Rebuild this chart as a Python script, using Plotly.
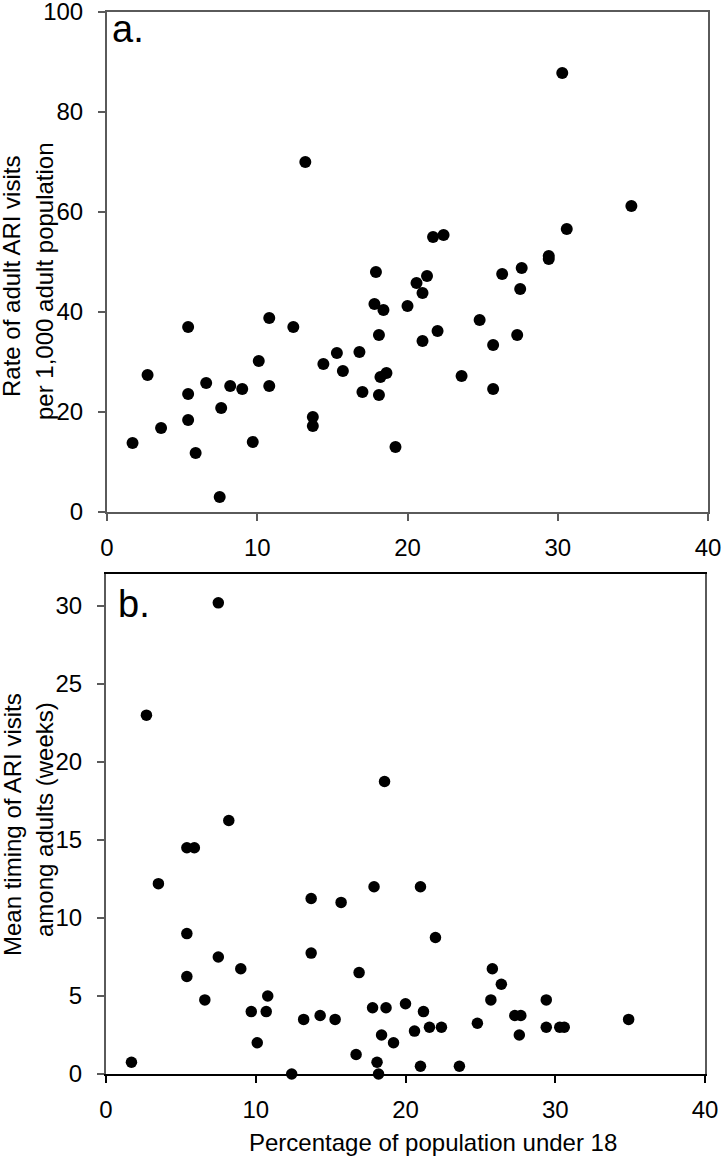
import plotly.graph_objects as go

# ---- Data ----
pct_under18_a = [1.7, 2.7, 3.6, 5.4, 5.4, 5.4, 5.9, 6.6, 7.6, 7.5, 8.2, 9.0, 9.7, 10.1,
                 10.8, 10.8, 12.4, 13.2, 13.7, 13.7, 14.4, 15.3, 15.7, 16.8, 17.0, 17.9,
                 17.8, 18.4, 18.1, 18.6, 18.2, 18.1, 19.2, 20.0, 20.6, 21.3, 21.0, 21.0,
                 22.0, 21.7, 22.4, 23.6, 24.8, 25.7, 25.7, 26.3, 27.3, 27.5, 27.6, 29.4,
                 29.4, 30.3, 30.6, 34.9]
ari_rate = [13.8, 27.4, 16.8, 37.0, 23.6, 18.4, 11.8, 25.8, 20.8, 3.0, 25.2, 24.6, 14.0, 30.2,
            38.8, 25.2, 37.0, 70.0, 19.0, 17.2, 29.6, 31.8, 28.2, 32.0, 24.0, 48.0,
            41.6, 40.4, 35.4, 27.8, 27.0, 23.4, 13.0, 41.2, 45.8, 47.2, 43.8, 34.2,
            36.2, 55.0, 55.4, 27.2, 38.4, 33.4, 24.6, 47.6, 35.4, 44.6, 48.8, 51.2,
            50.6, 87.8, 56.6, 61.2]

pct_under18_b = [1.7, 2.7, 3.5, 5.4, 5.9, 5.4, 5.4, 6.6, 7.5, 7.5, 8.2, 9.0, 9.7, 10.1,
                 10.7, 10.8, 12.4, 13.2, 13.7, 13.7, 14.3, 15.3, 15.7, 16.7, 16.9, 17.9,
                 21.0, 22.0, 17.8, 18.7, 20.0, 21.2, 18.4, 19.2, 20.6, 21.6, 22.4, 18.1,
                 18.2, 21.0, 23.6, 24.8, 25.7, 25.8, 26.4, 27.3, 27.7, 27.6, 29.4, 29.4,
                 30.3, 30.6, 34.9, 18.6]
mean_timing = [0.75, 23.0, 12.2, 14.5, 14.5, 9.0, 6.25, 4.75, 30.2, 7.5, 16.25, 6.75, 4.0, 2.0,
               4.0, 5.0, 0.0, 3.5, 11.25, 7.75, 3.75, 3.5, 11.0, 1.25, 6.5, 12.0,
               12.0, 8.75, 4.25, 4.25, 4.5, 4.0, 2.5, 2.0, 2.75, 3.0, 3.0, 0.75,
               0.0, 0.5, 0.5, 3.25, 4.75, 6.75, 5.75, 3.75, 3.75, 2.5, 4.75, 3.0,
               3.0, 3.0, 3.5, 18.75]

x_ticks = [0, 10, 20, 30, 40]
y_ticks_a = [0, 20, 40, 60, 80, 100]
y_ticks_b = [0, 5, 10, 15, 20, 25, 30]

W, H = 722, 1161
def px(x):
    return x / W
def py(y):
    return 1 - y / H

FONT = "Liberation Sans, Arial, Helvetica, sans-serif"
GRAY = "#5a5a5a"

fig = go.Figure()
fig.add_trace(go.Scatter(x=pct_under18_a, y=ari_rate, mode="markers",
                         marker=dict(color="black", size=12), cliponaxis=False,
                         xaxis="x", yaxis="y", showlegend=False))
fig.add_trace(go.Scatter(x=pct_under18_b, y=mean_timing, mode="markers",
                         marker=dict(color="black", size=11.5), cliponaxis=False,
                         xaxis="x2", yaxis="y2", showlegend=False))

axis_common = dict(showgrid=False, zeroline=False, showline=True, mirror=True,
                   ticks="outside", ticklen=7, tickwidth=2, automargin=False,
                   ticklabeloverflow="allow",
                   tickfont=dict(family=FONT, size=24, color="black"))

fig.update_layout(
    width=W, height=H,
    margin=dict(l=0, r=0, t=0, b=0),
    paper_bgcolor="white", plot_bgcolor="white",
    font=dict(family=FONT, size=24, color="black"),
    xaxis=dict(domain=[px(107), px(708)], range=[0, 40], tickvals=x_ticks,
               anchor="y", linecolor=GRAY, linewidth=2, tickcolor=GRAY,
               ticklabelstandoff=6, **axis_common),
    yaxis=dict(domain=[py(512), py(12)], range=[0, 100], tickvals=y_ticks_a,
               anchor="x", linecolor=GRAY, linewidth=2, tickcolor=GRAY,
               ticklabelstandoff=10, **axis_common),
    xaxis2=dict(domain=[px(106), px(705)], range=[0, 40], tickvals=x_ticks,
                anchor="y2", linecolor="black", linewidth=1.5, tickcolor="black",
                ticklabelstandoff=6, **axis_common),
    yaxis2=dict(domain=[py(1074), py(574)], range=[0, 32.05], tickvals=y_ticks_b,
                anchor="x2", linecolor=GRAY, linewidth=2, tickcolor=GRAY,
                ticklabelstandoff=10, **axis_common),
)

ann = [
    dict(text="a.", x=px(110), y=py(29), xanchor="left", yanchor="middle",
         font=dict(size=38)),
    dict(text="b.", x=px(116), y=py(604), xanchor="left", yanchor="middle",
         font=dict(size=38)),
    dict(text="Rate of adult ARI visits", x=px(12), y=py(277), textangle=-90,
         xanchor="center", yanchor="middle"),
    dict(text="per 1,000 adult population", x=px(44), y=py(281), textangle=-90,
         xanchor="center", yanchor="middle"),
    dict(text="Mean timing of ARI visits", x=px(12), y=py(825), textangle=-90,
         xanchor="center", yanchor="middle"),
    dict(text="among adults (weeks)", x=px(44), y=py(820), textangle=-90,
         xanchor="center", yanchor="middle"),
    dict(text="Percentage of population under 18", x=px(433), y=py(1142),
         xanchor="center", yanchor="middle"),
]
for a in ann:
    a.update(xref="paper", yref="paper", showarrow=False)
    f = dict(family=FONT, size=24, color="black")
    f.update(a.get("font", {}))
    a["font"] = f
fig.update_layout(annotations=ann)

fig.write_html("out.html",
               config={"displayModeBar": False},
               post_script="document.body.style.margin='0';document.body.style.overflow='hidden';")
